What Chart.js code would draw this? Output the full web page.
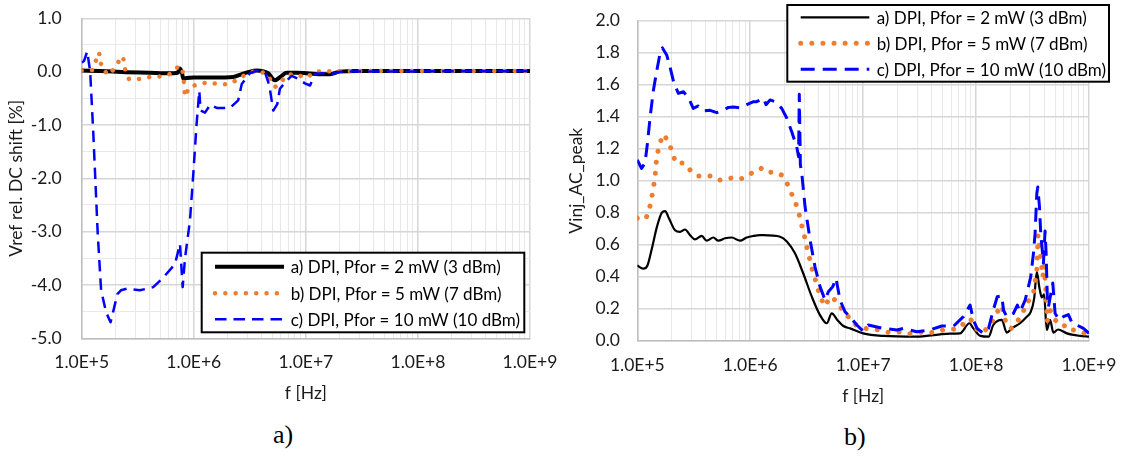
<!DOCTYPE html>
<html>
<head>
<meta charset="utf-8">
<title>DPI measurements</title>
<script src="https://cdn.jsdelivr.net/npm/chart.js@4.4.1/dist/chart.umd.min.js"></script>
<style>
  html, body { margin: 0; padding: 0; background: #fff; }
  body { width: 1127px; height: 459px; position: relative; overflow: hidden; }
  .panel { position: absolute; top: 0; height: 415px; }
  #panelA { left: 0; width: 560px; }
  #panelB { left: 560px; width: 567px; }
  .caption { position: absolute; font-family: "Liberation Serif", "DejaVu Serif", serif; font-size: 26px; line-height: 26px; color: #000; }
</style>
</head>
<body>
<div class="panel" id="panelA"><canvas id="dcChart"></canvas></div>
<div class="panel" id="panelB"><canvas id="acChart"></canvas></div>
<div class="caption" style="left:273px; top:422px;">a)</div>
<div class="caption" style="left:844px; top:424px;">b)</div>

<script>
// x axis decades (labels) shared by both panels
const decades = [1e5, 1e6, 1e7, 1e8, 1e9];
const seriesLabels = [
  "a) DPI, Pfor = 2 mW (3 dBm)",
  "b) DPI, Pfor = 5 mW (7 dBm)",
  "c) DPI, Pfor = 10 mW (10 dBm)",
];

// ─── Panel a: Vref DC shift [%] ──────────────────────────
const freqDcA = [1e5, 1.46e5, 2.5e5, 4e5, 6e5, 7.2e5, 7.5e5, 7.8e5, 8.1e5, 8.6e5,
  1e6, 1.5e6, 2.25e6, 2.58e6, 3.17e6, 3.64e6, 4.1e6, 4.6e6, 5.3e6, 6.08e6,
  6.74e6, 8.28e6, 1.02e7, 1.43e7, 1.64e7, 2.01e7, 2.84e7, 1e8, 1e9];
const dcShiftA = [0.02, 0.01, -0.01, -0.02, -0.03, -0.02, 0.06, 0.0, -0.14, -0.12,
  -0.11, -0.11, -0.1, -0.06, 0.0, 0.02, 0.01, -0.03, -0.16, -0.08,
  -0.02, -0.02, -0.03, -0.05, -0.05, 0.0, 0.01, 0.01, 0.01];

const freqDcB = [1e5, 1.24e5, 1.43e5, 1.47e5, 1.56e5, 1.67e5, 1.91e5, 2.17e5, 2.27e5, 2.35e5,
  2.45e5, 2.64e5, 3.27e5, 4.07e5, 5.07e5, 6.26e5, 7.38e5, 7.85e5, 8.09e5, 8.35e5,
  9.12e5, 1.12e6, 1.35e6, 1.63e6, 1.99e6, 2.42e6, 2.91e6, 3.64e6, 4.47e6, 5.3e6,
  5.87e6, 6.74e6, 8.28e6, 1e7, 1.21e7, 2.01e7, 1e9];
const dcShiftB = [0.02, 0.03, 0.36, 0.15, 0.13, -0.06, 0.03, 0.21, 0.17, 0.25,
  0.03, -0.14, -0.14, -0.1, -0.09, -0.04, 0.11, 0.08, -0.1, -0.47,
  -0.29, -0.23, -0.2, -0.23, -0.24, -0.16, -0.05, 0.02, -0.04, -0.29,
  -0.23, -0.06, -0.05, -0.12, 0.0, 0.01, 0.01];

const freqDcC = [1e5, 1.05e5, 1.12e5, 1.19e5, 1.27e5, 1.39e5, 1.49e5, 1.65e5, 1.81e5, 1.91e5,
  2.08e5, 2.24e5, 2.52e5, 3.31e5, 4.35e5, 5.35e5, 6.8e5, 7.53e5, 7.96e5, 8.35e5,
  9.25e5, 9.9e5, 1.06e6, 1.12e6, 1.15e6, 1.26e6, 1.4e6, 1.6e6, 2.1e6, 2.49e6,
  2.68e6, 3.17e6, 3.64e6, 4.32e6, 4.72e6, 5.12e6, 5.56e6, 5.87e6, 6.74e6, 7.47e6,
  8.28e6, 9.82e6, 1.09e7, 1.21e7, 1.43e7, 1.76e7, 2.01e7, 1e9];
const dcShiftC = [0.17, 0.2, 0.38, 0.0, -1.17, -3.04, -4.1, -4.51, -4.7, -4.5,
  -4.17, -4.1, -4.07, -4.1, -4.04, -3.86, -3.61, -3.23, -4.04, -3.5,
  -2.79, -1.92, -0.98, -0.36, -0.73, -0.77, -0.62, -0.68, -0.68, -0.54,
  -0.23, -0.03, 0.02, -0.01, -0.26, -0.73, -0.61, -0.32, -0.17, -0.08,
  -0.12, -0.22, -0.26, -0.04, -0.03, -0.04, 0.0, 0.01];

// ─── Panel b: Vinj AC peak ───────────────────────────────
const freqAcA = [1e5, 1.13e5, 1.23e5, 1.34e5, 1.49e5, 1.65e5, 1.76e5, 1.92e5, 2.16e5, 2.39e5,
  2.65e5, 2.93e5, 3.24e5, 3.72e5, 4.12e5, 4.71e5, 5.22e5, 5.98e5, 6.86e5, 8.12e5,
  9.31e5, 1.07e6, 1.22e6, 1.31e6, 1.84e6, 2.11e6, 2.49e6, 2.95e6, 3.51e6, 4.15e6,
  4.76e6, 5.27e6, 5.91e6, 6.68e6, 7.66e6, 1e7, 1.51e7, 2.98e7, 4.8e7, 5.89e7,
  7.21e7, 8.73e7, 9.46e7, 1.09e8, 1.29e8, 1.42e8, 1.69e8, 1.87e8, 2.07e8, 2.45e8,
  2.81e8, 3.05e8, 3.27e8, 3.45e8, 3.64e8, 3.82e8, 4e8, 4.23e8, 4.52e8, 4.84e8,
  5.32e8, 6.36e8, 8.34e8, 1e9];
const acPeakA = [0.47, 0.45, 0.47, 0.57, 0.71, 0.8, 0.81, 0.76, 0.69, 0.68,
  0.695, 0.66, 0.633, 0.655, 0.625, 0.645, 0.625, 0.64, 0.645, 0.625,
  0.645, 0.655, 0.66, 0.66, 0.65, 0.62, 0.546, 0.42, 0.275, 0.16,
  0.109, 0.171, 0.13, 0.092, 0.077, 0.046, 0.03, 0.025, 0.04, 0.044,
  0.046, 0.109, 0.077, 0.03, 0.025, 0.098, 0.13, 0.05, 0.077, 0.109,
  0.15, 0.18, 0.265, 0.43, 0.33, 0.27, 0.29, 0.067, 0.13, 0.05,
  0.07, 0.046, 0.03, 0.025];

const freqAcB = [1e5, 1.19e5, 1.28e5, 1.34e5, 1.39e5, 1.44e5, 1.46e5, 1.5e5, 1.57e5, 1.7e5,
  1.91e5, 2.04e5, 2.2e5, 2.61e5, 2.99e5, 3.43e5, 3.98e5, 4.62e5, 5.33e5, 6.19e5,
  7.09e5, 8.12e5, 9.31e5, 1.07e6, 1.25e6, 1.4e6, 1.63e6, 1.9e6, 2.13e6, 2.33e6,
  2.55e6, 2.72e6, 2.86e6, 3.02e6, 3.17e6, 3.34e6, 3.51e6, 3.75e6, 3.96e6, 4.21e6,
  4.6e6, 5.09e6, 5.91e6, 6.68e6, 7.66e6, 8.65e6, 1.04e7, 1.36e7, 1.73e7, 2.2e7,
  2.7e7, 3.42e7, 4.19e7, 5.13e7, 6.09e7, 7.22e7, 8.28e7, 8.98e7, 9.8e7, 1.16e8,
  1.42e8, 1.54e8, 1.69e8, 1.87e8, 2.07e8, 2.37e8, 2.56e8, 2.77e8, 2.97e8, 3.22e8,
  3.45e8, 3.54e8, 3.64e8, 3.73e8, 3.9e8, 4e8, 4.17e8, 4.26e8, 4.52e8, 5.01e8,
  5.74e8, 6.57e8, 7.28e8, 8.34e8, 9.56e8];
const acPeakB = [0.765, 0.76, 0.825, 0.89, 0.96, 1.025, 1.094, 1.16, 1.227, 1.29,
  1.24, 1.175, 1.11, 1.11, 1.06, 1.03, 1.03, 1.03, 1.004, 1.01,
  1.02, 1.01, 1.025, 1.056, 1.077, 1.05, 1.056, 1.035, 0.98, 0.917,
  0.852, 0.785, 0.72, 0.654, 0.587, 0.52, 0.455, 0.388, 0.326, 0.267,
  0.215, 0.275, 0.244, 0.18, 0.139, 0.098, 0.077, 0.067, 0.05, 0.056,
  0.04, 0.056, 0.05, 0.067, 0.07, 0.08, 0.133, 0.133, 0.077, 0.05,
  0.13, 0.18, 0.22, 0.09, 0.077, 0.13, 0.16, 0.234, 0.255, 0.295,
  0.44, 0.66, 0.59, 0.525, 0.4, 0.47, 0.3, 0.12, 0.19, 0.13,
  0.09, 0.098, 0.067, 0.06, 0.04];

const freqAcC = [1e5, 1.09e5, 1.17e5, 1.23e5, 1.3e5, 1.39e5, 1.49e5, 1.59e5, 1.67e5, 1.82e5,
  1.95e5, 2.11e5, 2.31e5, 2.56e5, 2.83e5, 3.13e5, 3.47e5, 3.84e5, 4.41e5, 5.05e5,
  5.78e5, 6.4e5, 7.09e5, 8.12e5, 9.31e5, 1.07e6, 1.14e6, 1.31e6, 1.38e6, 1.5e6,
  1.66e6, 1.9e6, 2.11e6, 2.33e6, 2.58e6, 2.68e6, 2.72e6, 2.78e6, 2.86e6, 3.06e6,
  3.39e6, 3.75e6, 4.15e6, 4.6e6, 4.92e6, 5.38e6, 5.75e6, 6.24e6, 6.92e6, 7.66e6,
  8.78e6, 1e7, 1.11e7, 1.51e7, 1.99e7, 2.27e7, 2.98e7, 3.91e7, 4.97e7, 6.3e7,
  7.72e7, 8.85e7, 9.46e7, 1.02e8, 1.16e8, 1.29e8, 1.42e8, 1.54e8, 1.69e8, 1.75e8,
  1.87e8, 2.14e8, 2.32e8, 2.45e8, 2.72e8, 2.91e8, 3.05e8, 3.22e8, 3.33e8, 3.45e8,
  3.52e8, 3.64e8, 3.74e8, 3.95e8, 4.08e8, 4.17e8, 4.28e8, 4.37e8, 4.78e8, 5.01e8,
  5.47e8, 5.93e8, 6.57e8, 7.08e8, 7.8e8, 8.92e8, 1e9];
const acPeakC = [1.13, 1.077, 1.11, 1.234, 1.4, 1.567, 1.69, 1.796, 1.83, 1.786,
  1.71, 1.61, 1.546, 1.556, 1.52, 1.452, 1.467, 1.436, 1.44, 1.425,
  1.44, 1.458, 1.46, 1.455, 1.475, 1.494, 1.494, 1.515, 1.475, 1.505,
  1.494, 1.452, 1.39, 1.306, 1.212, 1.15, 1.54, 1.1, 1.046, 0.837,
  0.63, 0.46, 0.338, 0.254, 0.306, 0.338, 0.39, 0.254, 0.18, 0.15,
  0.098, 0.06, 0.098, 0.077, 0.067, 0.077, 0.056, 0.067, 0.092, 0.09,
  0.15, 0.223, 0.13, 0.077, 0.046, 0.077, 0.192, 0.275, 0.28, 0.19,
  0.15, 0.17, 0.223, 0.18, 0.254, 0.338, 0.4, 0.546, 0.67, 0.92,
  0.96, 0.84, 0.67, 0.484, 0.685, 0.55, 0.254, 0.21, 0.36, 0.17,
  0.13, 0.15, 0.163, 0.11, 0.098, 0.077, 0.046];

// ─── Styling ─────────────────────────────────────────────
const MAJOR_GRID = "#d6d6d6";
const MINOR_GRID = "#e8e8e8";
const AXIS_LINE = "#bfbfbf";
const TEXT = "#1a1a1a";
const LABEL_SIZE = 17.5;

Chart.defaults.font.family = "Lato";
Chart.defaults.color = TEXT;
Chart.defaults.animation = false;

function zip(freqs, values) {
  return freqs.map((f, i) => ({ x: f, y: values[i] }));
}

const nearInt = (v) => Math.abs(v - Math.round(v)) < 1e-6;
const isDecade = (v) => decades.some((d) => Math.abs(v / d - 1) < 1e-9);

// 1..9 per decade so minor gridlines show between the labelled decades
function logGridTicks() {
  const ticks = [];
  for (let i = 0; i < decades.length - 1; i++) {
    for (let m = 1; m < 10; m++) ticks.push({ value: decades[i] * m });
  }
  ticks.push({ value: decades[decades.length - 1] });
  return ticks;
}

function freqAxis(height, tickPad, titlePad) {
  return {
    type: "logarithmic",
    min: decades[0],
    max: decades[decades.length - 1],
    afterBuildTicks: (s) => { s.ticks = logGridTicks(); },
    afterFit: (s) => { s.height = height; s.paddingLeft = 0; s.paddingRight = 0; },
    ticks: {
      autoSkip: false, maxRotation: 0, minRotation: 0, padding: tickPad,
      font: { size: LABEL_SIZE },
      callback: (v) => (isDecade(v) ? Number(v).toExponential(1).toUpperCase() : ""),
    },
    grid: {
      drawTicks: false,
      color: (c) => (c.tick && isDecade(c.tick.value) ? MAJOR_GRID : MINOR_GRID),
      lineWidth: (c) => (c.tick && isDecade(c.tick.value) ? 1.5 : 1),
    },
    border: { color: AXIS_LINE, width: 1.5 },
    title: { display: true, text: "f [Hz]", font: { size: LABEL_SIZE }, padding: { top: 0, bottom: titlePad } },
  };
}

function valueAxis(opts) {
  return {
    min: opts.min, max: opts.max,
    afterFit: (s) => { s.width = opts.width; s.paddingTop = 0; s.paddingBottom = 0; },
    ticks: {
      stepSize: opts.step, autoSkip: false, padding: opts.pad,
      font: { size: LABEL_SIZE },
      callback: (v) => (opts.labelEvery(v) ? Number(v).toFixed(1) : ""),
    },
    grid: {
      drawTicks: false,
      color: (c) => (c.tick && opts.labelEvery(c.tick.value) ? MAJOR_GRID : MINOR_GRID),
      lineWidth: (c) => (c.tick && opts.labelEvery(c.tick.value) ? 1.5 : 1),
    },
    border: { color: AXIS_LINE, width: 1.5 },
    title: { display: true, text: opts.title, font: { size: LABEL_SIZE }, padding: { top: 6, bottom: 0 } },
  };
}

// framed legend drawn inside the plot, like the spreadsheet original
const boxLegend = {
  id: "boxLegend",
  afterDraw(chart, args, o) {
    const ctx = chart.ctx;
    ctx.save();
    ctx.fillStyle = "#fff";
    ctx.fillRect(o.x, o.y, o.w, o.h);
    ctx.lineWidth = 2;
    ctx.strokeStyle = "#000";
    ctx.strokeRect(o.x, o.y, o.w, o.h);
    chart.data.datasets.forEach((ds, i) => {
      const y = o.rowY[i];
      ctx.beginPath();
      ctx.setLineDash(ds.borderDash || []);
      ctx.lineCap = ds.borderCapStyle || "butt";
      ctx.lineWidth = ds.borderWidth;
      ctx.strokeStyle = ds.borderColor;
      ctx.moveTo(o.lineX0, y);
      ctx.lineTo(o.lineX1, y);
      ctx.stroke();
      ctx.setLineDash([]);
      ctx.fillStyle = "#000";
      ctx.font = o.fontSize + "px Lato";
      ctx.textBaseline = "middle";
      ctx.textAlign = "left";
      ctx.fillText(ds.label, o.textX, y + 1);
    });
    ctx.restore();
  },
};

function makeDatasets(data, widths) {
  return [
    { label: seriesLabels[0], data: data[0], borderColor: "#000000", borderWidth: widths.solid,
      cubicInterpolationMode: "monotone", order: 3 },
    { label: seriesLabels[1], data: data[1], borderColor: "#ED7D31", borderWidth: widths.dot,
      borderDash: [0.01, widths.dotGap], borderCapStyle: "round", order: 2 },
    { label: seriesLabels[2], data: data[2], borderColor: "#0000FF", borderWidth: widths.dash,
      borderDash: widths.dashPattern, order: 1 },
  ];
}

const commonOptions = {
  responsive: true,
  maintainAspectRatio: false,
  elements: { point: { radius: 0 }, line: { tension: 0, borderJoinStyle: "round" } },
  plugins: { legend: { display: false }, tooltip: { enabled: false } },
};

new Chart(document.getElementById("dcChart"), {
  type: "line",
  data: {
    datasets: makeDatasets(
      [zip(freqDcA, dcShiftA), zip(freqDcB, dcShiftB), zip(freqDcC, dcShiftC)],
      { solid: 4, dot: 4.5, dotGap: 10.3, dash: 2.5, dashPattern: [11.5, 7] }
    ),
  },
  options: {
    ...commonOptions,
    layout: { padding: { top: 18.3, right: 30, bottom: 0, left: 0 } },
    scales: {
      x: freqAxis(76.7, 14, 11.5),
      y: valueAxis({ min: -5, max: 1, step: 0.5, width: 81.7, pad: 20,
        labelEvery: nearInt, title: "Vref rel. DC shift [%]" }),
    },
    plugins: {
      ...commonOptions.plugins,
      boxLegend: { x: 201.7, y: 252.7, w: 322.6, h: 79.6, rowY: [266.7, 293.3, 319.3],
        lineX0: 215, lineX1: 284, textX: 290.7, fontSize: 17 },
    },
  },
  plugins: [boxLegend],
});

new Chart(document.getElementById("acChart"), {
  type: "line",
  data: {
    datasets: makeDatasets(
      [zip(freqAcA, acPeakA), zip(freqAcB, acPeakB), zip(freqAcC, acPeakC)],
      { solid: 2.2, dot: 5, dotGap: 11.1, dash: 3, dashPattern: [14, 8] }
    ),
  },
  options: {
    ...commonOptions,
    layout: { padding: { top: 20.7, right: 38, bottom: 0, left: 0 } },
    scales: {
      x: freqAxis(74.3, 14.5, 8),
      y: valueAxis({ min: 0, max: 2, step: 0.2, width: 77.3, pad: 17.3,
        labelEvery: () => true, title: "Vinj_AC_peak" }),
    },
    plugins: {
      ...commonOptions.plugins,
      boxLegend: { x: 227.3, y: 5, w: 321.7, h: 76.7, rowY: [17.3, 43.3, 69.3],
        lineX0: 240.7, lineX1: 309.3, textX: 316.7, fontSize: 17 },
    },
  },
  plugins: [boxLegend],
});
</script>
</body>
</html>
